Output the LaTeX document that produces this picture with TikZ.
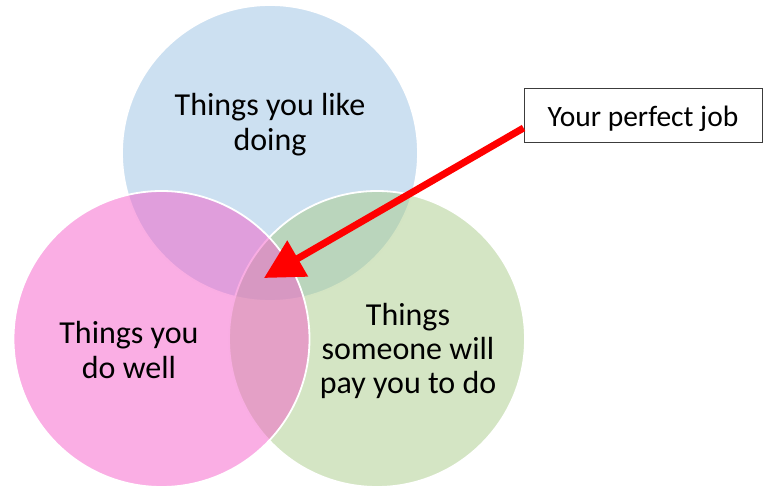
\documentclass[tikz,border=0pt]{standalone}
\usepackage{fontspec}
\setmainfont{Carlito}
\usetikzlibrary{arrows.meta}
\definecolor{cblue}{RGB}{204,224,241}
\definecolor{cpink}{RGB}{245,93,201}
\definecolor{cgreen}{RGB}{169,203,137}
\definecolor{boxline}{RGB}{60,60,60}
\tikzset{
  venn/.style={circle, minimum size=296pt, inner sep=0pt, draw=white, line width=1.8pt},
  label text/.style={align=center, font=\fontsize{32}{35}\selectfont, text=black},
  jobbox/.style={draw=boxline, line width=0.9pt, minimum width=238pt, minimum height=54pt, inner sep=0pt, text height=28pt, text depth=5pt, font=\fontsize{29.5}{32}\selectfont},
  bigarrow/.style={draw=red, line width=7pt, -{Triangle[length=39pt,width=40pt]}}
}
\begin{document}
\begin{tikzpicture}[x=1pt,y=-1pt]
\useasboundingbox (0,0) rectangle (764,489);
\node[venn, fill=cblue] (blue) at (270,153) {};
\node[venn, fill=cgreen, fill opacity=0.5] (green) at (377,339) {};
\node[venn, fill=cpink, fill opacity=0.5] (pink) at (161.5,339) {};
\node[label text] (tblue) at (270,124.5) {Things you like\\doing};
\node[label text] (tpink) at (129,349.5) {Things you\\do well};
\node[label text, font=\fontsize{32}{34}\selectfont] (tgreen) at (408,351) {Things\\someone will\\pay you to do};
\node[jobbox] (job) at (643,115) {Your perfect job};
\coordinate (start) at ([yshift=-13pt]job.west);
\coordinate (tip) at (264,278);
\draw[bigarrow] (start) -- (tip);
\end{tikzpicture}
\end{document}
